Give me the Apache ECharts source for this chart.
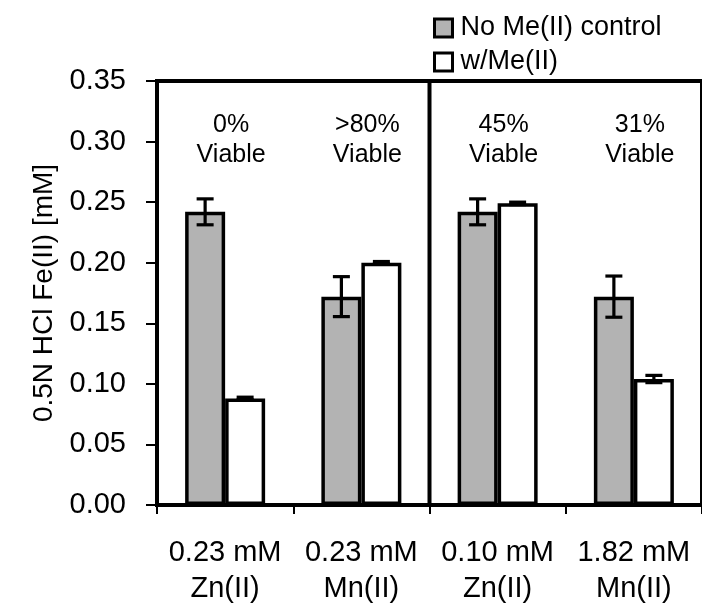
<!DOCTYPE html>
<html>
<head>
<meta charset="utf-8">
<script src="https://cdn.jsdelivr.net/npm/echarts@6/dist/echarts.min.js"></script>
<style>
html,body{margin:0;padding:0;background:#fff;}
#chart{width:702px;height:607px;}
</style>
</head>
<body>
<div id="chart"></div>
<script>
const categories = ['0.23 mM\nZn(II)', '0.23 mM\nMn(II)', '0.10 mM\nZn(II)', '1.82 mM\nMn(II)'];
const controlValues = [0.242, 0.172, 0.242, 0.172];
const controlErrors = [0.0107, 0.0165, 0.0107, 0.017];
const metalValues = [0.088, 0.200, 0.249, 0.104];
const metalErrors = [0.001, 0.001, 0.001, 0.003];
const viabilityLabels = ['0%\nViable', '>80%\nViable', '45%\nViable', '31%\nViable'];
const seriesNames = ['No Me(II) control', 'w/Me(II)'];
const dividerBeforeCategory = [2];
const yMin = 0, yMax = 0.35, yInterval = 0.05;

const FONT = 'Liberation Sans, Arial, sans-serif';
const BAR_W = 40;

function errorSeries(values, errors, offset) {
  return {
    type: 'custom',
    z: 10,
    silent: true,
    data: values.map((v, i) => [i, v, errors[i]]),
    renderItem: function (params, api) {
      const i = api.value(0), v = api.value(1), e = api.value(2);
      const top = api.coord([i, v + e]);
      const bot = api.coord([i, v - e]);
      const x = top[0] + offset;
      const cap = 8.5;
      const style = { stroke: '#000', lineWidth: 3.2, fill: null };
      return {
        type: 'group',
        children: [
          { type: 'line', shape: { x1: x, y1: top[1], x2: x, y2: bot[1] }, style: style },
          { type: 'line', shape: { x1: x - cap, y1: top[1], x2: x + cap, y2: top[1] }, style: style },
          { type: 'line', shape: { x1: x - cap, y1: bot[1], x2: x + cap, y2: bot[1] }, style: style }
        ]
      };
    }
  };
}

const chart = echarts.init(document.getElementById('chart'));
chart.setOption({
  animation: false,
  backgroundColor: '#fff',
  textStyle: { fontFamily: FONT, color: '#000' },
  legend: {
    data: seriesNames,
    orient: 'vertical',
    left: 428,
    top: 8,
    itemWidth: 18,
    itemHeight: 18,
    itemGap: 4,
    icon: 'rect',
    itemStyle: { borderColor: '#000', borderWidth: 3 },
    textStyle: { fontFamily: FONT, fontSize: 27, color: '#000', lineHeight: 30, padding: [0, 0, 0, 3] }
  },
  grid: {
    left: 157, top: 81, width: 556, bottom: 101,
    show: true, borderColor: '#000', borderWidth: 4, backgroundColor: 'transparent'
  },
  xAxis: {
    type: 'category',
    data: categories,
    boundaryGap: true,
    axisLine: { lineStyle: { color: '#000', width: 4 } },
    axisTick: { show: true, length: 9, lineStyle: { color: '#000', width: 2 } },
    axisLabel: { fontFamily: FONT, fontSize: 29, color: '#000', lineHeight: 36, margin: 30, interval: 0 },
    splitLine: { show: false }
  },
  yAxis: {
    type: 'value',
    min: yMin, max: yMax, interval: yInterval,
    name: '0.5N HCl Fe(II) [mM]',
    nameLocation: 'middle',
    nameRotate: 90,
    nameGap: 98,
    nameTextStyle: { fontFamily: FONT, fontSize: 28, color: '#000' },
    axisLine: { show: true, lineStyle: { color: '#000', width: 4 } },
    axisTick: { show: true, length: 11, lineStyle: { color: '#000', width: 2 } },
    axisLabel: { fontFamily: FONT, fontSize: 29, color: '#000', margin: 31, formatter: v => v.toFixed(2) },
    splitLine: { show: false }
  },
  series: [
    {
      name: seriesNames[0], type: 'bar', data: controlValues,
      barWidth: BAR_W, barGap: '0%',
      itemStyle: { color: '#b3b3b3', borderColor: '#000', borderWidth: 3.5 }
    },
    {
      name: seriesNames[1], type: 'bar', data: metalValues,
      barWidth: BAR_W, barGap: '0%',
      itemStyle: { color: '#ffffff', borderColor: '#000', borderWidth: 3.5 }
    },
    errorSeries(controlValues, controlErrors, -BAR_W / 2),
    errorSeries(metalValues, metalErrors, BAR_W / 2),
    {
      type: 'custom', silent: true, z: 12,
      data: dividerBeforeCategory.map(i => [i, yMin]),
      renderItem: function (params, api) {
        const i = api.value(0);
        const bandW = api.size([1, 0])[0];
        const x = api.coord([i, yMin])[0] - bandW / 2;
        const y0 = api.coord([i, yMin])[1];
        const y1 = api.coord([i, yMax])[1];
        return { type: 'line', shape: { x1: x, y1: y0, x2: x, y2: y1 }, style: { stroke: '#000', lineWidth: 4 } };
      }
    },
    {
      type: 'scatter', silent: true, z: 11,
      symbolSize: 1,
      itemStyle: { color: 'rgba(0,0,0,0)', opacity: 1 },
      data: viabilityLabels.map((t, i) => [i, 0.3014]),
      label: {
        show: true, position: 'inside', offset: [6, 0], opacity: 1,
        formatter: p => viabilityLabels[p.dataIndex],
        fontFamily: FONT, fontSize: 25, lineHeight: 30, color: '#000'
      }
    }
  ]
});
</script>
</body>
</html>
